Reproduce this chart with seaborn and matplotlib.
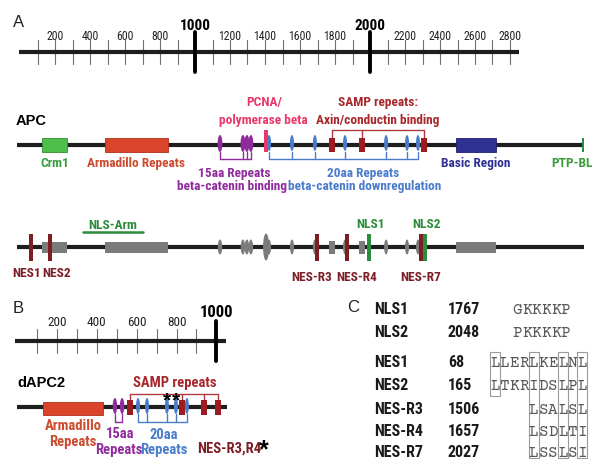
import numpy as np
import matplotlib.pyplot as plt
import seaborn as sns
from matplotlib.patches import Rectangle, Ellipse

sns.set_theme(style="white")
NARROW = ['Roboto Condensed', 'Archivo Narrow', 'Liberation Sans', 'DejaVu Sans']
SANS = ['Liberation Sans', 'DejaVu Sans']
MONO = ['Courier Prime', 'Liberation Mono', 'DejaVu Sans Mono']
plt.rcParams['font.family'] = NARROW

# ---- data: amino-acid positions ----
apc_length = 2843
apc_crm1 = (125, 250)
apc_arm = (440, 757)
apc_basic = (2200, 2400)
apc_ptpbl = 2838
apc_15aa = [1018, 1133, 1153, 1173]
apc_pcna = 1249
apc_20aa = [1264, 1379, 1494, 1645, 1851, 1956, 2011]
apc_samp = [1580, 1730, 2041]
nls_arm = (331, 632)

nes_names = ['NES1', 'NES2', 'NES-R3', 'NES-R4', 'NES-R7']
nes_pos = [68, 165, 1506, 1657, 2027]
nes_seq = ['LLERLKELNL', 'LTKRIDSLPL', 'LSALSL', 'LSDLTI', 'LSSLSI']
nls_names = ['NLS1', 'NLS2']
nls_pos = [1767, 2048]
nls_seq = ['GKKKKP', 'PKKKKP']
boxed_cols = [0, 4, 7, 9]

dapc2_length = 1053
dapc2_arm = (130, 431)
dapc2_15aa = [491, 527]
dapc2_20aa = [607, 652, 752, 797, 852]
dapc2_samp = [567, 827, 938, 1010]
dapc2_star = [752, 797]

ruler_a_max = 2800
ruler_b_max = 1000

# colours
LINE = '#1e1e1e'
GREEN = '#4dbf4a'
GREEN_TXT = '#3a9d3c'
ARM = '#d9442b'
ARM_TXT = '#cc4a2e'
PURPLE = '#8f2b9c'
PINK = '#e9386c'
BLUE = '#4a7ccc'
SAMP = '#9c1c22'
SAMP_TXT = '#a8272c'
NAVY = '#2e3192'
GRAY = '#7b7b7b'
NES = '#7d1d24'
NLS = '#2b8c3c'

fig = plt.figure(figsize=(6, 4.72), dpi=100)


def overlay(name, x0, scale):
    # full-figure axes: x in amino acids, y in pixels from the top
    ax = fig.add_axes([0, 0, 1, 1], label=name)
    ax.set_xlim(-x0 / scale, (600 - x0) / scale)
    ax.set_ylim(472, 0)
    ax.axis('off')
    ax.patch.set_alpha(0)
    return ax


ax_t = overlay('text', 0, 1.0)          # pixel coordinates
ax_r = overlay('rulerA', 20, 0.175)     # top ruler scale
ax_p = overlay('protein', 17, 0.1994)   # protein rows + ruler B


def backbone(ax, length, y, lw=3.0, start=0):
    ax.plot([start, length], [y, y], color=LINE, lw=lw, solid_capstyle='butt', zorder=1)


def box(ax, span, y, h, fc, ec='none', lw=0.6, z=2):
    ax.add_patch(Rectangle((span[0], y - h / 2), span[1] - span[0], h,
                           fc=fc, ec=ec, lw=lw, zorder=z))


def blobs(ax, xs, y, w, h, fc, z=3):
    for x in xs:
        ax.add_patch(Ellipse((x, y), w, h, fc=fc, ec='none', zorder=z))


def bars(ax, xs, y, w, h, fc, z=3):
    for x in xs:
        box(ax, (x - w / 2, x + w / 2), y, h, fc, z=z)


def bracket(ax, xs, ybar, yend, color, lw=1.0):
    ax.plot([min(xs), max(xs)], [ybar, ybar], color=color, lw=lw, zorder=2)
    for x in xs:
        ax.plot([x, x], [ybar, yend], color=color, lw=lw, zorder=2)


def label(ax, x, y, s, color, fs=9.6, weight='bold', ha='center', **kw):
    ax.text(x, y, s, color=color, fontsize=fs, fontweight=weight, ha=ha,
            va='baseline', **kw)


def ruler(ax, max_aa, y, minor, major, lab_y, big_y, fs, big_fs, end):
    backbone(ax, end, y, lw=3.0, start=-8)
    for t in range(100, max_aa + 1, 100):
        if t % 1000 == 0:
            ax.plot([t, t], [y - major, y + major], color='black', lw=2.8, zorder=2)
            label(ax, t, big_y, str(t), 'black', fs=big_fs)
        else:
            ax.plot([t, t], [y - minor, y + minor], color='#707070', lw=0.8, zorder=0)
            if t % 200 == 0:
                label(ax, t, lab_y, str(t), '#222222', fs=fs, weight='normal')


# ---- panel A: ruler ----
ruler(ax_r, ruler_a_max, 52, 12, 20, 39.5, 29.5, 8.5, 11, 2850)

# ---- panel A: APC domains ----
y = 145
backbone(ax_p, apc_length, y)
label(ax_p, -5, 125, 'APC', 'black', fs=10.5, ha='left', family=SANS)
box(ax_p, apc_crm1, y, 14, GREEN, '#2f8f2f')
box(ax_p, apc_arm, y, 14, ARM, '#b0301c')
box(ax_p, apc_basic, y, 14, NAVY, '#1e2070')
bars(ax_p, [apc_ptpbl], y, 14, 14, NLS)
blobs(ax_p, apc_15aa, y - 1.5, 24, 17, PURPLE)
bars(ax_p, [apc_pcna], y - 4, 20, 22, PINK, z=4)
blobs(ax_p, apc_20aa, y - 2, 20, 16, BLUE)
bars(ax_p, apc_samp, y, 30, 14, SAMP, z=4)
bracket(ax_p, apc_samp, 130, 138, '#b03a3e')
bracket(ax_p, apc_15aa, 159, 152, PURPLE)
bracket(ax_p, apc_20aa, 159, 152, BLUE)

label(ax_p, np.mean(apc_crm1), 167, 'Crm1', GREEN_TXT)
label(ax_p, np.mean(apc_arm), 167, 'Armadillo Repeats', ARM_TXT)
label(ax_p, np.mean(apc_basic), 167, 'Basic Region', NAVY)
label(ax_p, apc_ptpbl - 55, 167, 'PTP-BL', GREEN_TXT)
label(ax_p, 1090, 177, '15aa Repeats', PURPLE)
label(ax_p, 1080, 190, 'beta-catenin binding', PURPLE)
label(ax_p, apc_pcna - 10, 106, 'PCNA/', PINK)
label(ax_p, apc_pcna - 15, 124, 'polymerase beta', PINK)
label(ax_p, 1735, 177, '20aa Repeats', BLUE)
label(ax_p, 1745, 190, 'beta-catenin downregulation', BLUE)
label(ax_p, np.mean([apc_samp[0], apc_samp[-1]]), 106, 'SAMP repeats:', SAMP_TXT)
label(ax_p, np.mean([apc_samp[0], apc_samp[-1]]), 124, 'Axin/conductin binding', SAMP_TXT)

# ---- panel A: NES / NLS row ----
y = 247
backbone(ax_p, apc_length, y)
box(ax_p, apc_crm1, y, 11, GRAY)
box(ax_p, apc_arm, y, 11, GRAY)
box(ax_p, apc_basic, y, 11, GRAY)
blobs(ax_p, apc_15aa, y, 22, 15, GRAY)
blobs(ax_p, [apc_pcna], y, 30, 27, GRAY)
blobs(ax_p, apc_20aa, y, 20, 15, GRAY)
bars(ax_p, apc_samp, y, 30, 13, GRAY)
bars(ax_p, nes_pos, y, 20, 27, NES, z=5)
bars(ax_p, nls_pos, y, 20, 27, NLS, z=5)
ax_p.plot(nls_arm, [232, 232], color=NLS, lw=1.8)
label(ax_p, np.mean(nls_arm), 229, 'NLS-Arm', NLS)
nes_dx = [-18, 35, -30, 45, 0]
for name, pos, dx in zip(nes_names, nes_pos, nes_dx):
    label(ax_p, pos + dx, 277 if pos < 500 else 281, name, NES)
for name, pos in zip(nls_names, nls_pos):
    label(ax_p, pos + 5, 228, name, NLS)

# ---- panel B: ruler + dAPC2 ----
ruler(ax_p, ruler_b_max, 341, 12, 20, 326, 317, 9.5, 12, 1050)

y = 407
backbone(ax_p, dapc2_length, y)
label(ax_p, 0, 387, 'dAPC2', 'black', fs=10.5, ha='left', family=SANS)
box(ax_p, dapc2_arm, y + 1, 13, ARM, '#b0301c')
blobs(ax_p, dapc2_15aa, y - 1, 22, 16, PURPLE)
blobs(ax_p, dapc2_20aa, y - 1, 20, 16, BLUE)
bars(ax_p, dapc2_samp, y, 30, 15, SAMP, z=4)
bracket(ax_p, dapc2_samp, 394, 400, '#b03a3e')
bracket(ax_p, dapc2_15aa, 422, 414, PURPLE)
bracket(ax_p, dapc2_20aa, 422, 414, BLUE)
for s in dapc2_star:
    ax_p.text(s, 406, '*', fontsize=15, fontweight='bold', ha='center', va='baseline',
              color='black', family=SANS)

label(ax_p, 790, 387, 'SAMP repeats', SAMP_TXT, fs=10.5)
label(ax_p, np.mean(dapc2_arm), 430, 'Armadillo', ARM_TXT, fs=10.5)
label(ax_p, np.mean(dapc2_arm), 446, 'Repeats', ARM_TXT, fs=10.5)
label(ax_p, 517, 438, '15aa', PURPLE, fs=10.5)
label(ax_p, 512, 454, 'Repeats', PURPLE, fs=10.5)
label(ax_p, 737, 439, '20aa', BLUE, fs=10.5)
label(ax_p, 737, 454, 'Repeats', BLUE, fs=10.5)
label(ax_p, 1063, 453, 'NES-R3,R4', NES, fs=10.5)
ax_p.text(1240, 457, '*', fontsize=18, fontweight='bold', ha='center', va='baseline',
          color='black', family=SANS)

# ---- panel letters ----
for s, (px, py) in zip(['A', 'B', 'C'], [(13, 27), (13, 313), (347, 312)]):
    ax_t.text(px, py, s, fontsize=12, ha='left', va='baseline', color='#222222',
              family=SANS)

# ---- panel C: table ----
cw = 9.7
x_seq = 490
rows_y = [314, 337, 367, 390, 414, 436, 457]
names = nls_names + nes_names
numbers = nls_pos + nes_pos
seqs = nls_seq + nes_seq
offsets = [2.3, 2.3, 0, 0, 4, 4, 4]
for ry, nm, num, sq, off in zip(rows_y, names, numbers, seqs, offsets):
    label(ax_t, 374, ry, nm, '#1a1a1a', fs=11.5, ha='left')
    label(ax_t, 448, ry, str(num), '#1a1a1a', fs=11.5, ha='left')
    for i, ch in enumerate(sq):
        ax_t.text(x_seq + (off + i + 0.5) * cw, ry, ch, fontsize=11.5, ha='center',
                  va='baseline', color='#5a5a5a', family=MONO)
for c in boxed_cols:
    y1 = 396 if c == 0 else 458
    ax_t.add_patch(Rectangle((x_seq + c * cw, 352), cw, y1 - 352, fc='none',
                             ec='#9a9a9a', lw=0.8))

fig.savefig('out.png', dpi=100)
